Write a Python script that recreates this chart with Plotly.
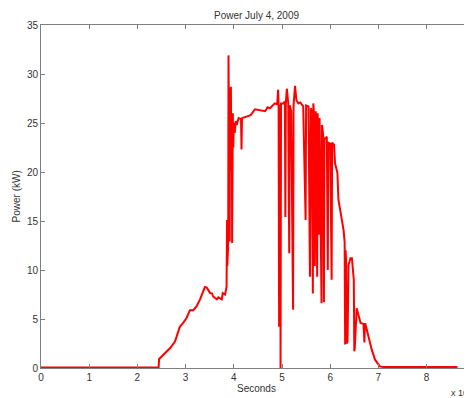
import plotly.graph_objects as go

# Time (seconds) and power (kW)
seconds = [
    0, 24400, 24500, 25400, 26800, 27800, 28800, 29500, 30200, 30900, 31600, 32300,
    33000, 34000, 34400, 35100, 35500, 35700, 36500, 36800, 37500, 37700, 38200, 38500,
    38600, 38650, 38800, 38850, 38900, 38950, 39000, 39050, 39100, 39150, 39200, 39300,
    39400, 39500, 39600, 39650, 39700, 39800, 39900, 40000, 40200, 40400, 40600, 41000,
    41500, 41600, 41700, 42500, 43500, 44400, 45500, 46500, 47000, 47500, 48500, 49000,
    49200, 49300, 49400, 49500, 49650, 49700, 49800, 50300, 50600, 50700, 50800, 51000,
    51300, 51500, 51600, 51900, 52300, 52400, 52700, 53000, 53400, 53800, 54400, 54900,
    55000, 55500, 55800, 56000, 56200, 56400, 56500, 56600, 56800, 57000, 57300, 57400,
    57700, 57800, 58200, 58300, 58600, 58700, 58800, 59300, 59500, 59600, 60000, 60300,
    60400, 60800, 61000, 61500, 61700, 62400, 62800, 63000, 63100, 63200, 63300, 63400,
    63600, 63800, 64200, 64500, 64900, 65000, 65100, 65500, 65800, 66300, 66900, 67100,
    67200, 67300, 67600, 68100, 68600, 69300, 70000, 70300, 71000, 86400,
]
power_kw = [
    0.05, 0.05, 0.92, 1.36, 2.04, 2.70, 4.20, 4.60, 5.10, 5.90, 5.90, 6.30,
    7.00, 8.26, 8.20, 7.65, 7.60, 7.30, 7.00, 7.20, 7.00, 7.65, 7.50, 8.30,
    15.1, 10.4, 12.1, 15.3, 31.9, 24.0, 30.5, 20.0, 28.6, 12.9, 26.9, 21.8,
    28.7, 20.1, 25.1, 12.75, 23.1, 26.0, 22.5, 25.0, 24.0, 25.2, 24.8, 25.5,
    25.4, 22.3, 25.5, 25.6, 25.8, 26.4, 26.3, 26.2, 26.6, 26.5, 27.0, 26.9,
    28.4, 26.8, 4.2, 26.9, 26.9, 0.0, 27.0, 27.0, 27.2, 15.4, 27.0, 28.5,
    27.0, 11.7, 26.8, 26.2, 5.95, 26.8, 28.8, 27.3, 27.0, 27.1, 26.7, 15.1,
    26.8, 26.7, 9.3, 26.5, 26.0, 7.6, 27.0, 26.3, 10.4, 26.2, 9.3, 26.0,
    13.6, 25.5, 6.6, 24.8, 23.5, 6.7, 23.3, 23.6, 10.0, 23.0, 22.9, 9.0,
    23.0, 22.8, 20.9, 19.9, 17.2, 15.1, 14.0, 12.8, 2.4, 12.0, 11.0, 2.5,
    2.7, 10.5, 11.2, 11.2, 9.0, 1.7, 2.0, 6.1, 5.4, 4.6, 4.5, 2.6,
    4.5, 4.5, 3.9, 2.9, 1.9, 0.85, 0.34, 0.16, 0.10, 0.10,
]
n = min(len(seconds), len(power_kw))
seconds = seconds[:n]
power_kw = power_kw[:n]

x_tick_vals = [0, 10000, 20000, 30000, 40000, 50000, 60000, 70000, 80000]
x_tick_text = ["0", "1", "2", "3", "4", "5", "6", "7", "8"]
y_tick_vals = [0, 5, 10, 15, 20, 25, 30, 35]

FONT = "Liberation Sans, Arial, sans-serif"
AXIS_COLOR = "#7f7f7f"
TEXT_COLOR = "#333333"

fig = go.Figure()
fig.add_trace(go.Scatter(
    x=seconds, y=power_kw, mode="lines",
    line=dict(color="#ff0000", width=2),
    hoverinfo="skip",
))

# page has an 8px body margin, so the figure is 464x390 and offset by 8px
fig.update_layout(
    width=464, height=390,
    margin=dict(l=33, r=0, t=17, b=30),
    paper_bgcolor="white", plot_bgcolor="white",
    showlegend=False,
    font=dict(family=FONT, size=10, color=TEXT_COLOR),
    title=dict(text="Power July 4, 2009", x=0.5, xref="paper", xanchor="center",
               y=1 - 7 / 390, yanchor="middle", font=dict(size=10, color=TEXT_COLOR)),
    xaxis=dict(
        range=[0, 89420], tickvals=x_tick_vals, ticktext=x_tick_text,
        showgrid=False, zeroline=False, showline=True, linecolor=AXIS_COLOR, linewidth=1,
        mirror="ticks", ticks="inside", ticklen=4, tickcolor=AXIS_COLOR,
        tickfont=dict(size=10, color=TEXT_COLOR),
    ),
    yaxis=dict(
        range=[0, 35], tickvals=y_tick_vals,
        showgrid=False, zeroline=False, showline=True, linecolor=AXIS_COLOR, linewidth=1,
        mirror="ticks", ticks="inside", ticklen=4, tickcolor=AXIS_COLOR,
        tickfont=dict(size=10, color=TEXT_COLOR),
    ),
    annotations=[
        dict(text="Seconds", xref="paper", yref="paper", x=0.5, y=-0.06,
             xanchor="center", yanchor="middle", showarrow=False,
             font=dict(size=10, color=TEXT_COLOR)),
        dict(text="Power (kW)", xref="paper", yref="paper", x=-0.0557, y=0.5,
             xanchor="center", yanchor="middle", textangle=-90, showarrow=False,
             font=dict(size=10, color=TEXT_COLOR)),
        dict(text="x 10<sup>4</sup>", xref="paper", yref="paper", x=0.947, y=-0.069,
             xanchor="left", yanchor="middle", showarrow=False,
             font=dict(size=9, color=TEXT_COLOR)),
    ],
)

fig.write_html("out.html")
